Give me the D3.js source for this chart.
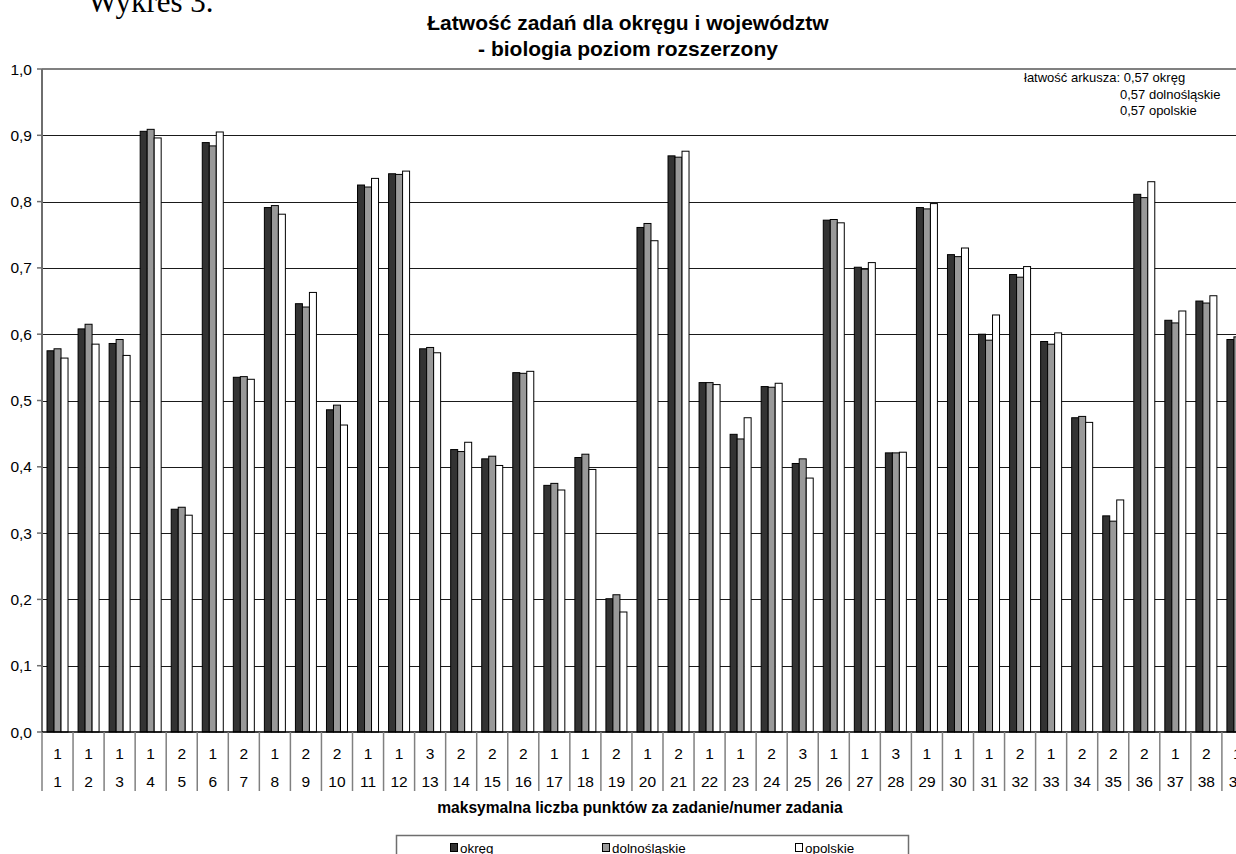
<!DOCTYPE html>
<html>
<head>
<meta charset="utf-8">
<script src="https://cdn.jsdelivr.net/npm/d3@7"></script>
<style>
  html, body { margin: 0; padding: 0; background: #fff; overflow: hidden; }
  svg { display: block; }
</style>
</head>
<body>
<svg id="chart" width="1236" height="854"></svg>
<script>
// Task numbers and maximum points per task
const tasks = ["1","2","3","4","5","6","7","8","9","10","11","12","13","14","15","16","17","18","19","20",
               "21","22","23","24","25","26","27","28","29","30","31","32","33","34","35","36","37","38","39"];
const maxPoints = ["1","1","1","1","2","1","2","1","2","2","1","1","3","2","2","2","1","1","2","1",
                   "2","1","1","2","3","1","1","3","1","1","1","2","1","2","2","2","1","2","1"];

// Task easiness per region
const okreg = [0.575,0.608,0.586,0.906,0.336,0.889,0.535,0.791,0.646,0.486,0.825,0.842,0.578,0.426,0.412,0.542,0.372,0.414,0.201,0.761,
               0.869,0.527,0.449,0.521,0.405,0.772,0.701,0.421,0.791,0.720,0.600,0.690,0.589,0.474,0.326,0.811,0.621,0.650,0.592];
const dolnoslaskie = [0.578,0.615,0.592,0.909,0.339,0.884,0.536,0.794,0.641,0.493,0.822,0.841,0.580,0.423,0.416,0.541,0.375,0.419,0.207,0.767,
               0.867,0.527,0.442,0.520,0.412,0.773,0.698,0.421,0.789,0.717,0.591,0.686,0.585,0.476,0.318,0.806,0.617,0.647,0.596];
const opolskie = [0.564,0.585,0.568,0.896,0.327,0.905,0.532,0.781,0.663,0.463,0.835,0.846,0.572,0.437,0.402,0.544,0.365,0.396,0.181,0.741,
               0.876,0.524,0.474,0.526,0.383,0.768,0.708,0.422,0.797,0.730,0.629,0.702,0.602,0.467,0.350,0.830,0.635,0.658,0.590];

const seriesNames = ["okręg", "dolnośląskie", "opolskie"];
const seriesColors = ["#333333", "#999999", "#ffffff"];
const yTicks = [0,0.1,0.2,0.3,0.4,0.5,0.6,0.7,0.8,0.9,1.0];
const sheetEasiness = ["0,57", "0,57", "0,57"];

const series = [okreg, dolnoslaskie, opolskie];

const svg = d3.select("#chart");
const FONT = "'Liberation Sans', Arial, sans-serif";

function label(parent, px, py, str, opt = {}) {
  return parent.append("text")
    .attr("x", px).attr("y", py)
    .attr("text-anchor", opt.anchor || "start")
    .attr("font-family", opt.family || FONT)
    .attr("font-size", opt.size || 15)
    .attr("font-weight", opt.weight || "normal")
    .attr("fill", "#000")
    .text(str);
}

// Plot frame
const plotLeft = 42, plotTop = 69, plotBottom = 732;
const catW = 31.05;
const plotRight = plotLeft + catW * tasks.length;

const x = d3.scaleBand().domain(tasks).range([plotLeft, plotRight]).padding(0);
const y = d3.scaleLinear().domain([0, 1]).range([plotBottom, plotTop]);
const groupW = 21;
const xs = d3.scaleBand().domain(d3.range(series.length))
  .range([(catW - groupW) / 2, (catW + groupW) / 2]).padding(0);

// Header
label(svg, 88, 12, "Wykres 3.", { family: "'Liberation Serif', 'Times New Roman', serif", size: 31 });
label(svg, 628, 30, "Łatwość zadań dla okręgu i województw", { anchor: "middle", size: 21, weight: "bold" });
label(svg, 628, 56, "- biologia poziom rozszerzony", { anchor: "middle", size: 21, weight: "bold" });

// Horizontal gridlines
const grid = svg.append("g");
grid.selectAll("line").data(yTicks.filter(d => d > 0 && d < 1)).join("line")
  .attr("x1", plotLeft).attr("x2", plotRight)
  .attr("y1", d => Math.round(y(d)) + 0.5).attr("y2", d => Math.round(y(d)) + 0.5)
  .attr("stroke", "#1a1a1a").attr("stroke-width", 1);

// Plot area border (top)
svg.append("line").attr("x1", plotLeft).attr("x2", plotRight)
  .attr("y1", y(1)).attr("y2", y(1))
  .attr("stroke", "#808080").attr("stroke-width", 2);

// Bars
const groups = svg.append("g").selectAll("g").data(tasks).join("g")
  .attr("transform", d => `translate(${x(d)},0)`);
groups.selectAll("rect")
  .data((d, i) => series.map((s, k) => ({ k, v: s[i] })))
  .join("rect")
  .attr("x", d => xs(d.k))
  .attr("width", xs.bandwidth())
  .attr("y", d => y(d.v))
  .attr("height", d => y(0) - y(d.v))
  .attr("fill", d => seriesColors[d.k])
  .attr("stroke", "#000")
  .attr("stroke-width", 1);

// Y axis
const yAxis = svg.append("g");
yAxis.append("line").attr("x1", plotLeft).attr("x2", plotLeft).attr("y1", plotTop).attr("y2", plotBottom)
  .attr("stroke", "#6e6e6e").attr("stroke-width", 2);
yAxis.selectAll("line.tick").data(yTicks).join("line").attr("class", "tick")
  .attr("x1", plotLeft - 5).attr("x2", plotLeft)
  .attr("y1", d => y(d)).attr("y2", d => y(d))
  .attr("stroke", "#6e6e6e").attr("stroke-width", 1.5);
yTicks.forEach(t => {
  label(yAxis, 32, y(t) + 5.5, d3.format(".1f")(t).replace(".", ","), { anchor: "end", size: 15.5 });
});

// X axis baseline and category separators
const xAxis = svg.append("g");
xAxis.append("line").attr("x1", plotLeft).attr("x2", plotRight).attr("y1", plotBottom).attr("y2", plotBottom)
  .attr("stroke", "#000").attr("stroke-width", 1.5);
xAxis.selectAll("line.sep").data(tasks.concat(["end"])).join("line").attr("class", "sep")
  .attr("x1", (d, i) => plotLeft + i * x.bandwidth()).attr("x2", (d, i) => plotLeft + i * x.bandwidth())
  .attr("y1", plotBottom).attr("y2", 791)
  .attr("stroke", "#808080").attr("stroke-width", 1.5);
tasks.forEach((t, i) => {
  const cx = x(t) + x.bandwidth() / 2;
  label(xAxis, cx, 758.5, maxPoints[i], { anchor: "middle", size: 15.5 });
  label(xAxis, cx, 787, t, { anchor: "middle", size: 15.5 });
});
label(svg, 640, 813, "maksymalna liczba punktów za zadanie/numer zadania", { anchor: "middle", size: 15.6, weight: "bold" });

// Sheet easiness note
const note = svg.append("g");
label(note, 1024, 82, `łatwość arkusza: ${sheetEasiness[0]} ${seriesNames[0]}`, { size: 13 });
label(note, 1120, 98.5, `${sheetEasiness[1]} ${seriesNames[1]}`, { size: 13 });
label(note, 1120, 115, `${sheetEasiness[2]} ${seriesNames[2]}`, { size: 13 });

// Legend
const legend = svg.append("g");
legend.append("rect").attr("x", 396.5).attr("y", 835.5).attr("width", 512).attr("height", 40)
  .attr("fill", "#fff").attr("stroke", "#6e6e6e").attr("stroke-width", 1.5);
const legendX = [450, 602, 795];
seriesNames.forEach((n, k) => {
  legend.append("rect").attr("x", legendX[k] + 0.5).attr("y", 843.5).attr("width", 7).attr("height", 8)
    .attr("fill", seriesColors[k]).attr("stroke", "#000").attr("stroke-width", 1);
  label(legend, legendX[k] + 10, 852.5, n, { size: 13.4 });
});
</script>
</body>
</html>
